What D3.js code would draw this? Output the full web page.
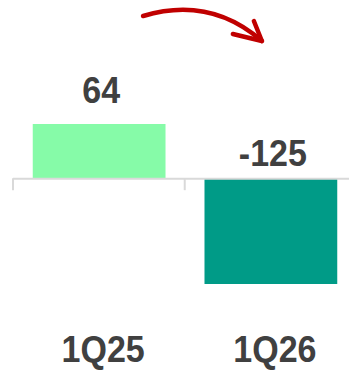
<!DOCTYPE html>
<html>
<head>
<meta charset="utf-8">
<script src="https://cdn.jsdelivr.net/npm/d3@7"></script>
<style>
  html, body { margin: 0; padding: 0; background: #ffffff; }
  svg { display: block; }
</style>
</head>
<body>
<svg id="chart" width="349" height="371"></svg>
<script>
// Quarterly values
const categories = ["1Q25", "1Q26"];
const values = [64, -125];
const barColors = ["#86FBA8", "#009B87"];

const width = 349, height = 371;
const svg = d3.select("#chart");

const x = d3.scaleBand()
  .domain(categories)
  .range([13, 357])
  .paddingInner(0.227)
  .paddingOuter(0.115);

const y = d3.scaleLinear()
  .domain([-125, 64])
  .range([284, 124]);

const y0 = y(0);
const textColor = "#404040";
const font = "'Liberation Sans', Arial, sans-serif";
const stretch = 1.07; // slightly tall lettering

// Bars
svg.append("g")
  .selectAll("rect")
  .data(values)
  .join("rect")
  .attr("x", (d, i) => x(categories[i]))
  .attr("width", x.bandwidth())
  .attr("y", d => y(Math.max(0, d)))
  .attr("height", d => Math.abs(y(d) - y0))
  .attr("fill", (d, i) => barColors[i]);

// Category axis: zero line with band-edge ticks
const outer = x.step();
const edges = [13, 13 + outer, 13 + 2 * outer];
const axisG = svg.append("g").attr("stroke", "#d9d9d9").attr("stroke-width", 2);
axisG.append("line")
  .attr("x1", 13).attr("x2", width)
  .attr("y1", y0 + 0.5).attr("y2", y0 + 0.5);
axisG.selectAll("line.tick")
  .data(edges)
  .join("line")
  .attr("class", "tick")
  .attr("x1", d => d).attr("x2", d => d)
  .attr("y1", y0).attr("y2", y0 + 12);

// Value labels
svg.append("g")
  .selectAll("text")
  .data(values)
  .join("text")
  .attr("transform", (d, i) => {
    const tx = x(categories[i]) + x.bandwidth() / 2 + 2;
    const ty = d >= 0 ? y(d) - 21 : y0 - 12.5;
    return `translate(${tx},${ty}) scale(1,${stretch})`;
  })
  .attr("text-anchor", "middle")
  .attr("font-family", font)
  .attr("font-weight", "bold")
  .attr("font-size", 34)
  .attr("fill", textColor)
  .text(d => d);

// Category labels
svg.append("g")
  .selectAll("text")
  .data(categories)
  .join("text")
  .attr("transform", d => `translate(${x(d) + x.bandwidth() / 2 + 4},362) scale(1,${stretch})`)
  .attr("text-anchor", "middle")
  .attr("font-family", font)
  .attr("font-weight", "bold")
  .attr("font-size", 34)
  .attr("fill", textColor)
  .text(d => d);

// Curved arrow from the first quarter towards the second
const c0 = x(categories[0]) + x.bandwidth() / 2;
const c1 = x(categories[1]) + x.bandwidth() / 2;
const start = [c0 + 44, 16];
const tip = [c1 - 9, 41];
const ctrl = [start[0] + 67, -4];
const arrow = svg.append("g")
  .attr("fill", "none")
  .attr("stroke", "#C00000")
  .attr("stroke-width", 4.5)
  .attr("stroke-linecap", "round")
  .attr("stroke-linejoin", "round");
arrow.append("path")
  .attr("d", `M${start[0]},${start[1]} Q${ctrl[0]},${ctrl[1]} ${tip[0]},${tip[1]}`);
arrow.append("path")
  .attr("d", `M${tip[0] - 29},${tip[1] - 7} L${tip[0]},${tip[1]} L${tip[0] - 8},${tip[1] - 20}`);
</script>
</body>
</html>
